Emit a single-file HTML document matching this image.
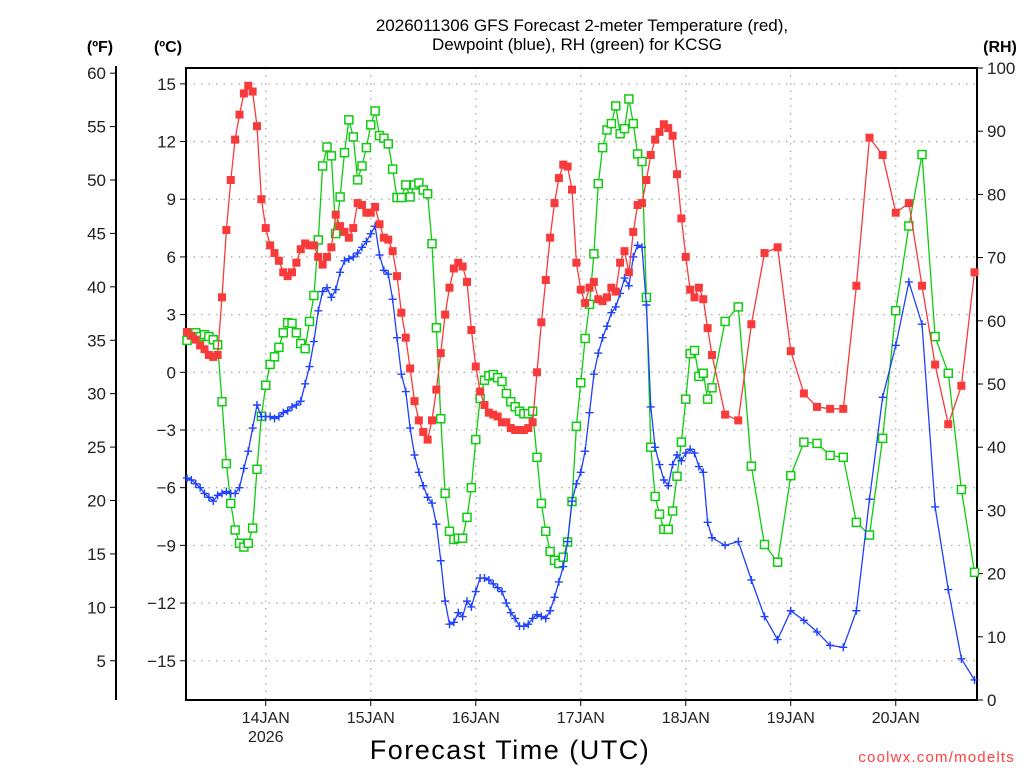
<!DOCTYPE html>
<html><head><meta charset="utf-8"><style>
html,body{margin:0;padding:0;background:#fff;}
svg{display:block;font-family:"Liberation Sans",sans-serif;}
</style></head><body>
<svg id="chart" width="1024" height="768" viewBox="0 0 1024 768">
<g id="grid"></g>
<g id="axes"></g>
<g id="series"></g>
<text x="582" y="31" text-anchor="middle" font-size="17">2026011306 GFS Forecast 2-meter Temperature (red),</text>
<text x="577" y="50" text-anchor="middle" font-size="17">Dewpoint (blue), RH (green) for KCSG</text>
<text x="100" y="52" text-anchor="middle" font-size="16" font-weight="bold">(ºF)</text>
<text x="168" y="52" text-anchor="middle" font-size="16" font-weight="bold">(ºC)</text>
<text x="1000" y="52" text-anchor="middle" font-size="16" font-weight="bold">(RH)</text>
<text x="510" y="759" text-anchor="middle" font-size="27" letter-spacing="1.5">Forecast Time (UTC)</text>
<text x="1015" y="762" text-anchor="end" font-size="15" fill="#ff4040" letter-spacing="1.2">coolwx.com/modelts</text>
</svg>
<script>
const tempHoursly = [2.1,1.9,1.7,1.4,1.2,0.9,0.8,0.9,3.9,7.4,10.0,12.1,13.4,14.5,14.9,14.6,12.8,9.0,7.5,6.6,6.2,5.8,5.2,5.0,5.2,5.7,6.4,6.7,6.6,6.6,6.0,5.6,6.0,6.5,8.2,7.6,7.3,7.0,7.5,8.8,8.7,8.3,8.3,8.6,7.7,7.0,6.9,6.3,5.0,3.1,1.8,0.2,-1.5,-2.5,-3.1,-3.5,-2.5,-0.9,1.0,3.0,4.4,5.4,5.7,5.5,4.7,2.2,0.3,-1.0,-1.7,-2.1,-2.2,-2.3,-2.6,-2.6,-2.9,-3.0,-3.0,-3.0,-2.9,-2.6,0.0,2.6,4.8,7.0,8.8,10.1,10.8,10.7,9.5,5.7,4.3,3.6,4.4,4.7,3.8,3.7,3.9,4.4,4.2,5.7,6.3,5.2,7.3,8.7,8.8,10.0,11.3,12.1,12.5,12.9,12.7,12.3,10.3,8.0,6.0,4.3,3.9,4.4,3.8,2.3,0.9];
const temp3hourly = [-2.2,-2.5,2.5,6.2,6.5,1.1,-1.1,-1.8,-1.9,-1.9,4.5,12.2,11.3,8.3,8.8,4.5,0.4,-2.7,-0.7,5.2];
const dewHourly = [-5.5,-5.6,-5.8,-6.0,-6.3,-6.5,-6.7,-6.4,-6.3,-6.2,-6.3,-6.3,-6.0,-5.0,-4.1,-2.9,-1.7,-2.3,-2.3,-2.3,-2.4,-2.3,-2.1,-2.0,-1.8,-1.7,-1.5,-0.6,0.3,1.6,3.2,4.2,4.4,3.9,4.3,5.2,5.8,5.9,6.0,6.2,6.5,6.8,7.2,7.6,6.1,5.3,5.1,3.8,1.8,-0.1,-1.0,-2.9,-4.3,-5.2,-5.9,-6.5,-6.8,-7.9,-9.8,-11.9,-13.1,-13.0,-12.5,-12.7,-11.9,-12.2,-11.4,-10.7,-10.7,-10.8,-11.0,-11.2,-11.4,-12.0,-12.5,-12.8,-13.2,-13.2,-13.1,-12.8,-12.6,-12.7,-12.8,-12.4,-11.7,-10.9,-10.1,-8.8,-6.7,-5.8,-5.2,-4.1,-2.1,-0.1,1.0,1.8,2.4,3.1,3.4,4.1,4.9,4.5,6.0,6.6,6.5,3.5,-1.8,-3.9,-4.8,-5.6,-5.9,-4.8,-4.3,-4.6,-4.2,-4.0,-4.2,-4.9,-5.2,-7.8,-8.6];
const dew3hourly = [-9.0,-8.8,-10.8,-12.7,-13.9,-12.4,-12.9,-13.5,-14.2,-14.3,-12.4,-6.6,-1.3,1.4,4.7,2.5,-7.0,-11.3,-14.9,-16.0];
const rhHourly = [56.9,57.8,58.1,57.5,57.8,57.5,57.0,56.2,47.2,37.4,31.1,26.9,24.8,24.2,24.8,27.2,36.5,44.9,49.8,53.1,54.3,55.8,58.1,59.7,59.6,58.1,56.4,55.6,59.9,64.0,72.8,84.5,87.5,86.1,73.8,79.6,86.6,91.8,89.1,82.3,84.5,87.4,91.0,93.2,89.3,88.9,88.0,84.0,79.5,79.5,81.5,79.6,81.5,81.8,80.7,80.1,72.2,58.9,44.5,32.7,26.7,25.4,25.6,25.6,28.9,33.6,41.2,47.7,50.6,51.3,51.5,51.0,50.4,48.5,47.2,46.4,45.7,45.3,45.3,45.7,38.4,31.1,26.7,23.5,22.1,21.6,22.6,25.0,31.4,43.3,50.2,57.2,62.6,70.6,81.7,87.4,90.2,91.2,94.0,89.6,90.4,95.1,91.2,86.4,85.2,63.7,40.0,32.2,29.4,27.0,27.0,29.9,35.4,40.8,47.6,54.8,55.3,51.2,51.7,47.6,49.4];
const rh3hourly = [59.9,62.2,37.0,24.6,21.8,35.5,40.8,40.6,38.7,38.4,28.1,26.1,41.4,61.6,75.0,86.3,57.5,51.7,33.3,20.2];
const celsiusTicks = [15,12,9,6,3,0,-3,-6,-9,-12,-15];
const fahrenheitTicks = [60,55,50,45,40,35,30,25,20,15,10,5];
const rhTicks = [100,90,80,70,60,50,40,30,20,10,0];
const dayLabels = ["14JAN","15JAN","16JAN","17JAN","18JAN","19JAN","20JAN"];
const dayHours = [18,42,66,90,114,138,162];

const NS="http://www.w3.org/2000/svg";
const L=186,R=977,T=68,B=700;
const xOf=h=>187+h*4.375;
const yC=c=>372.3-c*19.23;
const yF=f=>yC((f-32)*5/9);
const yRH=r=>T+(100-r)*6.32;
function mk(tag,attrs,parent){const e=document.createElementNS(NS,tag);for(const k in attrs)e.setAttribute(k,attrs[k]);parent.appendChild(e);return e;}
function build(hourly,threeH){const pts=[];hourly.forEach((v,i)=>pts.push([i,v]));threeH.forEach((v,i)=>pts.push([123+i*3,v]));return pts;}
const grid=document.getElementById('grid'),axes=document.getElementById('axes'),ser=document.getElementById('series');

celsiusTicks.forEach(c=>{const y=yC(c);
 const g=mk('line',{x1:L,x2:R,y1:y,y2:y,stroke:'#aaa','stroke-width':1.3,'stroke-dasharray':'1.5 6'},grid);
 
 mk('line',{x1:L-6,x2:L,y1:y,y2:y,stroke:'#000','stroke-width':1},axes);
 const t=mk('text',{x:L-10,y:y+6,'text-anchor':'end','font-size':17,fill:'#222'},axes);
 t.textContent=(c<0?'\u2212'+(-c):c);
 });
dayHours.forEach((h,i)=>{const x=xOf(h);
 const g=mk('line',{x1:x,x2:x,y1:T,y2:B,stroke:'#aaa','stroke-width':1.3,'stroke-dasharray':'1.5 6'},grid);
 
 mk('line',{x1:x,x2:x,y1:B,y2:B+6,stroke:'#000','stroke-width':1},axes);
 const t=mk('text',{x:x,y:723,'text-anchor':'middle','font-size':16,fill:'#222'},axes);
 t.textContent=dayLabels[i];
 });
const yr=mk('text',{x:xOf(18),y:742,'text-anchor':'middle','font-size':16,fill:'#222'},axes);yr.textContent='2026';

fahrenheitTicks.forEach(f=>{const y=yF(f);
 mk('line',{x1:110,x2:116,y1:y,y2:y,stroke:'#000','stroke-width':1},axes);
 const t=mk('text',{x:106,y:y+6,'text-anchor':'end','font-size':17,fill:'#222'},axes);t.textContent=f;
 });
mk('line',{x1:116,x2:116,y1:T-2,y2:B,stroke:'#000','stroke-width':2},axes);
rhTicks.forEach(r=>{const y=yRH(r);
 mk('line',{x1:R,x2:R+6,y1:y,y2:y,stroke:'#000','stroke-width':1},axes);
 const t=mk('text',{x:R+10,y:y+6,'text-anchor':'start','font-size':17,fill:'#222'},axes);t.textContent=r;
 });
const fr=mk('rect',{x:L,y:T,width:R-L,height:B-T,fill:'none',stroke:'#000','stroke-width':2},axes);


function series(pts,yfn,color,kind,name){
 const g=mk('g',{},ser);
 
 const d=pts.map((p,i)=>(i?'L':'M')+xOf(p[0]).toFixed(1)+' '+yfn(p[1]).toFixed(1)).join('');
 mk('path',{d:d,fill:'none',stroke:color,'stroke-width':1.3},g);
 pts.forEach(p=>{const x=xOf(p[0]),y=yfn(p[1]);let m;
  if(kind==='fill')m=mk('rect',{x:x-4,y:y-4,width:8,height:8,fill:color},g);
  else if(kind==='open')m=mk('rect',{x:x-4,y:y-4,width:8,height:8,fill:'#fff',stroke:color,'stroke-width':1.5},g);
  else m=mk('path',{d:`M${x-4} ${y}h8M${x} ${y-4}v8`,stroke:color,'stroke-width':1.4},g);
  });
}
series(build(rhHourly,rh3hourly),yRH,'#10cc10','open','rh-series');
series(build(dewHourly,dew3hourly),yC,'#2040ff','plus','dewpoint-series');
series(build(tempHoursly,temp3hourly),yC,'#f83a3a','fill','temperature-series');
</script>
</body></html>
